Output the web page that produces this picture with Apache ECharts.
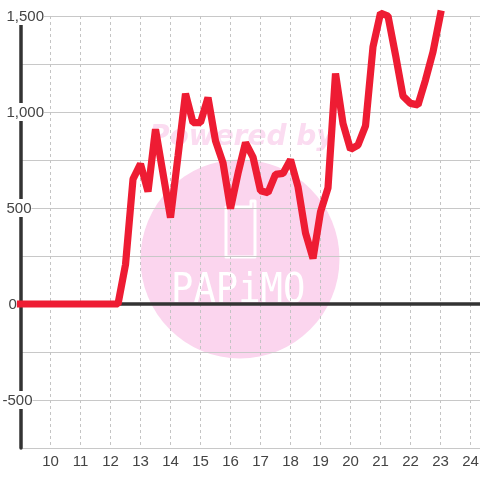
<!DOCTYPE html>
<html>
<head>
<meta charset="utf-8">
<style>
html,body{margin:0;padding:0;background:#fff;}
#chart{width:480px;height:480px;}
</style>
<script src="https://cdn.jsdelivr.net/npm/echarts@6/dist/echarts.min.js"></script>
</head>
<body>
<div id="chart"></div>
<script>
// quarter hours on the x axis
var hours = [9,9.25,9.5,9.75,10,10.25,10.5,10.75,11,11.25,11.5,11.75,12,12.25,12.5,12.75,
    13,13.25,13.5,13.75,14,14.25,14.5,14.75,15,15.25,15.5,15.75,16,16.25,16.5,16.75,
    17,17.25,17.5,17.75,18,18.25,18.5,18.75,19,19.25,19.5,19.75,20,20.25,20.5,20.75,
    21,21.25,21.5,21.75,22,22.25,22.5,22.75,23];
var values = [0,0,0,0,0,0,0,0,0,0,0,0,0,0,205,650,
    730,585,910,680,450,770,1095,945,945,1075,850,735,497,680,840,765,
    590,580,675,680,752,610,370,237,480,605,1200,940,805,828,928,1340,
    1515,1500,1297,1083,1045,1037,1167,1313,1510];
var yLabels = {'1500':'{w|1,500}','1000':'{w|1,000}','500':'{h|500}','0':'{z|0}','-500':'{m|-500}'};

var points = [];
for (var i = 0; i < hours.length; i++) {
    points.push([hours[i], values[i]]);
}

var labelColor = '#444';
var labelFont = {fontFamily:'Liberation Sans', fontSize:15, color:labelColor, height:16, lineHeight:16};
function richLabel(pad, bg) {
    return Object.assign({padding:[2,0,0,pad], backgroundColor:bg}, labelFont);
}

var chart = echarts.init(document.getElementById('chart'));
chart.setOption({
    animation: false,
    backgroundColor: '#fff',
    grid: {left:20.5, top:16, width:460, height:432, containLabel:false, outerBoundsMode:'none'},
    // watermark sits under everything
    graphic: [
        {type:'circle', z:-10, shape:{cx:240, cy:259, r:99.5}, style:{fill:'#fbd5ee'}},
        {type:'text', z:-10, x:149, y:124, style:{text:'Powered by', fill:'#fbdcf1',
            font:'italic bold 28px "DejaVu Sans"'}},
        {type:'polygon', z:-9, shape:{points:[[226,207],[251,207],[251,201],[255,201],[255,257],[226,257]]},
            style:{fill:'none', stroke:'#fff', lineWidth:3, lineJoin:'round'}},
        {type:'text', z:-9, x:171, y:272, scaleX:0.93, style:{text:'PAPiMO', fill:'#fff',
            font:'300 40px "DejaVu Sans Mono"'}}
    ],
    xAxis: [
        {
            type:'value', min:9, max:24.333, interval:1, position:'bottom',
            axisLine:{onZero:false, show:false},
            axisTick:{show:false},
            axisLabel:{
                margin:6, fontFamily:'Liberation Sans', fontSize:15, color:labelColor,
                formatter:function (v) { return (v === 9 || v % 1 !== 0) ? '' : String(v); }
            },
            splitLine:{show:true, lineStyle:{color:'#c4c4c4', width:1, type:[3,3]}}
        },
        {
            // dark zero line
            type:'value', min:9, max:24.333, interval:1, position:'top',
            axisLine:{onZero:true, show:true, lineStyle:{color:'#333', width:3.5}},
            axisTick:{show:false},
            axisLabel:{show:false},
            splitLine:{show:false}
        }
    ],
    yAxis: {
        type:'value', min:-750, max:1500, interval:250, position:'left',
        axisLine:{show:true, onZero:false, lineStyle:{color:'#333', width:3.5}},
        axisTick:{show:false},
        axisLabel:{
            align:'left', margin:18,
            formatter:function (v) { return yLabels[String(v)] || ''; },
            rich:{
                w:richLabel(4,'#fff'),
                h:richLabel(4,'#fff'),
                z:richLabel(6,'transparent'),
                m:richLabel(0,'#fff')
            }
        },
        splitLine:{show:true, lineStyle:{color:'#c8c8c8', width:1}}
    },
    series: [{
        type:'line', xAxisIndex:0, data:points, symbol:'none', clip:false, silent:true, z:5,
        lineStyle:{color:'#ee1c33', width:7.2, join:'bevel', cap:'square'}
    }]
});
</script>
</body>
</html>
